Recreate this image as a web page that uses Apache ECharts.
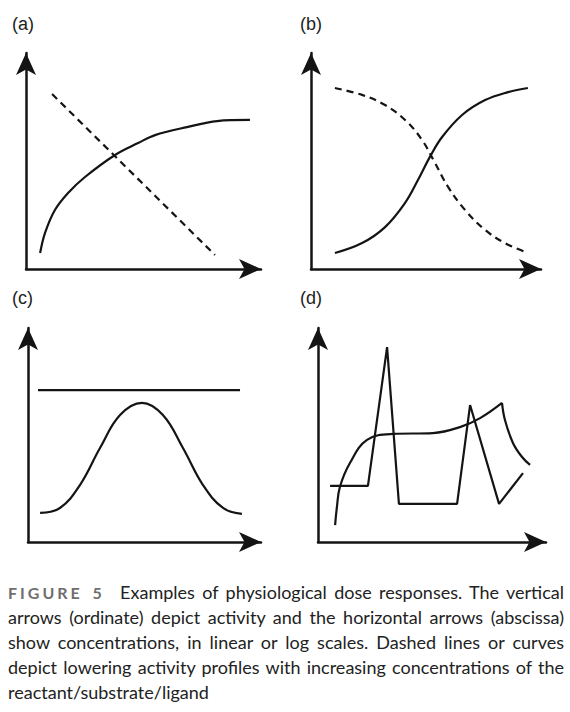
<!DOCTYPE html>
<html>
<head>
<meta charset="utf-8">
<script src="https://cdn.jsdelivr.net/npm/echarts@6/dist/echarts.min.js"></script>
<style>
  html, body { margin: 0; padding: 0; background: #fff; }
  #wrap { position: relative; width: 570px; height: 712px; overflow: hidden; }
  #chart { position: absolute; left: 0; top: 0; width: 570px; height: 712px; }
  #caption {
    position: absolute; left: 8px; top: 580px; width: 556px;
    font-family: Lato, "Noto Sans", sans-serif; font-size: 18px; line-height: 25px; color: #222;
  }
  #caption .ln { text-align: justify; text-align-last: justify; white-space: nowrap; }
  #caption .last { text-align: left; text-align-last: left; white-space: nowrap; }
  #caption .fig { font-size: 16px; font-weight: 700; color: #6e6e6e; letter-spacing: 3px; margin-right: 8px; }
</style>
</head>
<body>
<div id="wrap">
  <div id="chart"></div>
  <div id="caption">
    <div class="ln"><span class="fig">FIGURE 5</span> Examples of physiological dose responses. The vertical</div>
    <div class="ln">arrows (ordinate) depict activity and the horizontal arrows (abscissa)</div>
    <div class="ln">show concentrations, in linear or log scales. Dashed lines or curves</div>
    <div class="ln">depict lowering activity profiles with increasing concentrations of the</div>
    <div class="last">reactant/substrate/ligand</div>
  </div>
</div>
<script>
// panel labels
const panelLabels = ['(a)', '(b)', '(c)', '(d)'];

// (a) hyperbolic saturation and a falling straight line
const aSaturation = [[6.0, 7.4], [8.1, 16.7], [12.3, 27.3], [17.9, 35.2], [25.1, 42.6], [37.9, 52.8],
  [47.7, 58.3], [54.9, 62.0], [68.5, 65.7], [81.3, 68.5], [95.3, 69.0]];
const aFalling = [[11.1, 81.0], [80.4, 6.5]];

// (b) rising and falling sigmoids
const bRising = [[10.4, 7.4], [22.2, 12.0], [32.2, 19.4], [40.9, 30.6], [46.5, 41.2], [51.7, 51.9],
  [57.0, 61.1], [65.7, 71.3], [75.7, 78.2], [85.7, 81.9], [94.3, 83.8]];
const bFalling = [[10.4, 83.8], [22.2, 80.6], [32.2, 75.9], [40.9, 69.0], [48.3, 59.7], [53.9, 49.1],
  [59.6, 38.0], [67.0, 27.3], [75.7, 18.1], [84.3, 12.0], [94.3, 7.4]];

// (c) flat response and bell shaped response
const cFlat = [[4.3, 71.0], [91.0, 71.0]];
const cBell = [[5.2, 13.6], [13.7, 15.9], [22.3, 26.6], [30.9, 43.9], [39.5, 59.3], [48.9, 65.0],
  [57.9, 59.3], [66.5, 43.9], [75.1, 26.6], [83.7, 15.9], [91.8, 13.1]];

// (d) saturation with a drop, and zigzag response
const dRise = [[7.5, 7.9], [8.3, 16.4], [9.6, 25.7], [14.0, 36.9], [21.5, 47.7], [32.9, 50.5],
  [50.4, 50.9], [62.3, 53.7], [71.1, 57.9], [80.7, 65.0]];
const dDecay = [[80.7, 65.0], [82.0, 57.0], [85.5, 46.3], [89.5, 39.7], [93.0, 36.0]];
const dZigzag = [[5.3, 26.2], [21.9, 26.2], [30.3, 91.1], [35.5, 17.8], [61.0, 17.8], [66.7, 64.0],
  [79.4, 17.8], [89.9, 32.2]];

const ink = '#141414';
const grids = [
  { left: 26, top: 53, width: 235, height: 216 },
  { left: 311, top: 53, width: 230, height: 216 },
  { left: 28, top: 328, width: 233, height: 214 },
  { left: 318, top: 328, width: 228, height: 214 }
];
const labelPos = [[12, 15], [300, 15], [12, 289], [300, 289]];

function axis(i) {
  return {
    type: 'value', gridIndex: i, min: 0, max: 100,
    axisLine: { show: true, symbol: ['none', 'arrow'], symbolSize: [15, 22], lineStyle: { color: ink, width: 2.5 } },
    axisTick: { show: false }, axisLabel: { show: false }, splitLine: { show: false }
  };
}

function curve(i, data, opts) {
  return Object.assign({
    type: 'line', xAxisIndex: i, yAxisIndex: i, data: data,
    showSymbol: false, silent: true, animation: false,
    lineStyle: { color: ink, width: 2.2 }
  }, opts || {});
}

const chart = echarts.init(document.getElementById('chart'), null, { renderer: 'svg' });
chart.setOption({
  backgroundColor: '#fff',
  animation: false,
  title: panelLabels.map((t, i) => ({
    text: t, left: labelPos[i][0], top: labelPos[i][1], padding: 0,
    textStyle: { fontFamily: 'Liberation Sans', fontSize: 18, fontWeight: 'normal', color: '#222' }
  })),
  grid: grids,
  xAxis: grids.map((g, i) => axis(i)),
  yAxis: grids.map((g, i) => axis(i)),
  series: [
    curve(0, aSaturation, { smooth: 0.35 }),
    curve(0, aFalling, { lineStyle: { color: ink, width: 2.2, type: [7, 5] } }),
    curve(1, bRising, { smooth: 0.4 }),
    curve(1, bFalling, { smooth: 0.4, lineStyle: { color: ink, width: 2.2, type: [7, 5] } }),
    curve(2, cFlat),
    curve(2, cBell, { smooth: 0.4 }),
    curve(3, dRise, { smooth: 0.4 }),
    curve(3, dDecay, { smooth: 0.4 }),
    curve(3, dZigzag)
  ]
});
</script>
</body>
</html>
